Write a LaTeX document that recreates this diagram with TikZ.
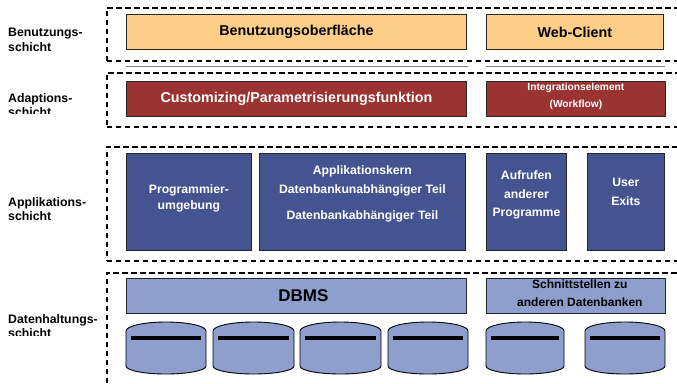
\documentclass[tikz,border=0pt]{standalone}
\usepackage{fontspec}
\setmainfont{Liberation Sans}
\definecolor{orangefill}{RGB}{253,206,135}
\definecolor{redfill}{RGB}{155,51,51}
\definecolor{darkblue}{RGB}{69,84,145}
\definecolor{lightblue}{RGB}{142,158,205}
\begin{document}
\begin{tikzpicture}[x=1pt,y=-1pt,
  layer/.style={draw=black, line width=1.6pt, dash pattern=on 5.5pt off 3.5pt, anchor=north west, inner sep=0pt},
  box/.style={draw=black!85, line width=0.8pt, anchor=north west, inner sep=0pt, align=center, font=\bfseries},
  obox/.style={box, fill=orangefill, text=black, font=\fontsize{14.3}{17}\selectfont\bfseries},
  rbox/.style={box, fill=redfill, text=white},
  dbox/.style={box, fill=darkblue},
  lbox/.style={box, fill=lightblue, text=black},
  txt/.style={anchor=north, inner sep=0pt, align=center, font=\bfseries},
  wtxt/.style={txt, text=white},
  lbl/.style={anchor=north west, inner sep=0pt, align=left, font=\fontsize{12.3}{14.5}\selectfont\bfseries},
  cyl/.style={draw=black, line width=0.9pt, fill=lightblue},
  bar/.style={line width=4pt, black}
]
\useasboundingbox (0,0) rectangle (677,383);
\clip (0,0) rectangle (677,383);

% layer frames (right edge beyond the picture)
\node[layer, minimum width=620pt, minimum height=53pt] (L1) at (106,7) {};
\node[layer, minimum width=620pt, minimum height=54pt] (L2) at (106,72) {};
\node[layer, minimum width=620pt, minimum height=114pt] (L3) at (106,146) {};
\node[layer, minimum width=620pt, minimum height=140pt] (L4) at (106,272) {};

% layer labels
\node[lbl] (t1) at (8,28) {Benutzungs-\\schicht};
\begin{scope}
  \clip (0,80) rectangle (105,113.5);
  \node[lbl] (t2) at (8,93) {Adaptions-\\schicht};
\end{scope}
\node[lbl] (t3) at (8,197) {Applikations-\\schicht};
\begin{scope}
  \clip (0,300) rectangle (105,335.5);
  \node[lbl] (t4) at (8,314) {Datenhaltungs-\\schicht};
\end{scope}

% row 1
\node[obox, minimum width=340pt, minimum height=35pt] (bo) at (126,14) {Benutzungsoberfläche};
\node[obox, minimum width=177pt, minimum height=35pt] (wc) at (486,14) {Web-Client};
\draw[gray, line width=0.7pt] (126,66) -- (468,66) (486,66) -- (665,66);

% row 2
\node[rbox, minimum width=340pt, minimum height=35pt, font=\fontsize{14.3}{17}\selectfont\bfseries] (cp) at (126,81) {Customizing/Parametrisierungsfunktion};
\node[rbox, minimum width=179pt, minimum height=35pt] (ie) at (486,81) {};
\node[wtxt, font=\fontsize{10.2}{17}\selectfont\bfseries] (iet) at ([yshift=-1.5pt]ie.north) {Integrationselement\\(Workflow)};

% row 3
\node[dbox, minimum width=125pt, minimum height=97pt] (pu) at (126,153) {};
\node[wtxt, font=\fontsize{12.2}{16}\selectfont\bfseries] (put) at ([yshift=-31.5pt]pu.north) {Programmier-\\umgebung};
\node[dbox, minimum width=206pt, minimum height=97pt] (ak) at (259,153) {};
\node[wtxt, font=\fontsize{12.2}{19}\selectfont\bfseries] (akt) at ([yshift=-12.5pt]ak.north) {Applikationskern\\Datenbankunabhängiger Teil\\[7pt]Datenbankabhängiger Teil};
\node[dbox, minimum width=80pt, minimum height=97pt] (ap) at (486,153) {};
\node[wtxt, font=\fontsize{12.2}{18.5}\selectfont\bfseries] (apt) at ([yshift=-17.5pt]ap.north) {Aufrufen\\anderer\\Programme};
\node[dbox, minimum width=77pt, minimum height=97pt] (ue) at (587,153) {};
\node[wtxt, font=\fontsize{12.2}{19}\selectfont\bfseries] (uet) at ([yshift=-24.5pt]ue.north) {User\\Exits};

% row 4
\node[lbox, minimum width=340pt, minimum height=35pt, font=\fontsize{17}{20}\selectfont\bfseries] (db) at (126,278) {\hspace*{14pt}DBMS};
\node[lbox, minimum width=179pt, minimum height=35pt] (ss) at (486,278) {};
\node[txt, font=\fontsize{12}{18}\selectfont\bfseries] (sst) at ([xshift=4pt,yshift=-1.5pt]ss.north) {Schnittstellen zu\\anderen Datenbanken};

% cylinders
\foreach \xa/\xb [count=\i] in {126/206, 213/294, 300/381, 388/468, 486/564, 585/665}{
  \pgfmathsetmacro{\rx}{(\xb-\xa)/2}
  \draw[cyl] (\xa,331) -- (\xa,366)
     arc[start angle=180, end angle=0, x radius=\rx, y radius=8]
     -- (\xb,331)
     arc[start angle=360, end angle=180, x radius=\rx, y radius=9] -- cycle;
  \draw[bar] (\xa+5,338) -- (\xb-5,338);
}
\end{tikzpicture}
\end{document}
